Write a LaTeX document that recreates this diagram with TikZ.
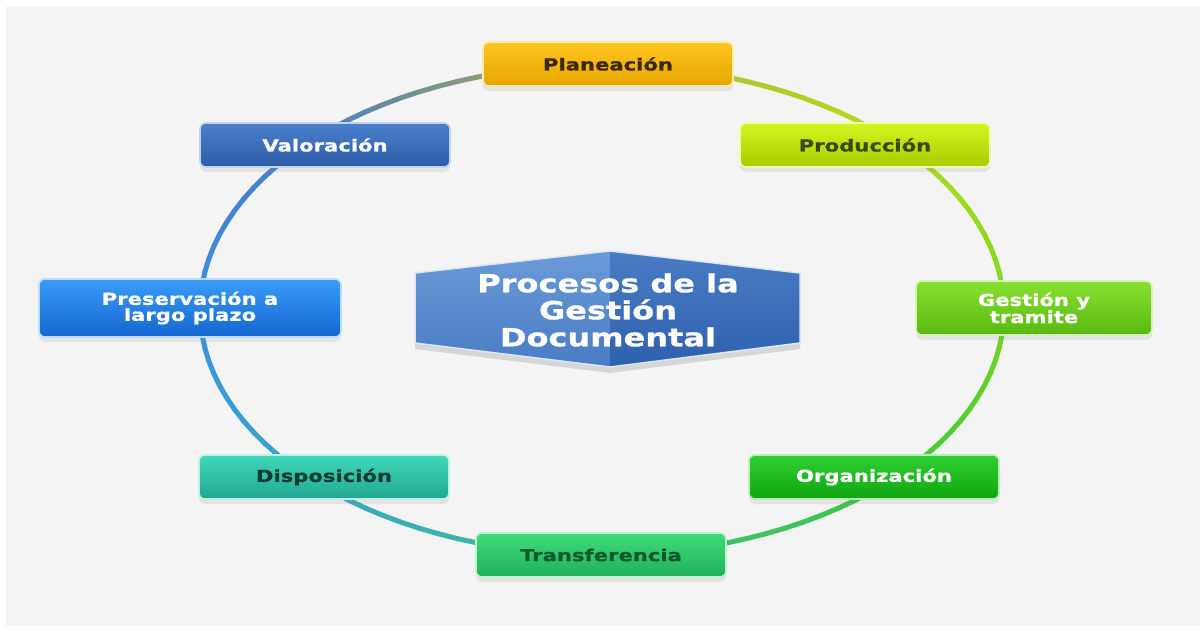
\documentclass[tikz,border=0pt]{standalone}
\usepackage{fontspec}
\setmainfont{DejaVu Sans}
\newfontfamily\widefont[FakeStretch=1.28, BoldFeatures={FakeBold=0.9}]{DejaVu Sans}
\usetikzlibrary{shadows}

\definecolor{bgray}{HTML}{F4F4F4}
% ring colours
\definecolor{rPlan}{HTML}{B4B43C}
\definecolor{rProd}{HTML}{B4DC1E}
\definecolor{rGest}{HTML}{7CD820}
\definecolor{rOrg}{HTML}{3CC83C}
\definecolor{rTrans}{HTML}{40BC8C}
\definecolor{rDisp}{HTML}{3AA8C8}
\definecolor{rPres}{HTML}{3A90E0}
\definecolor{rVal}{HTML}{4A7CC8}
% box colours
\definecolor{planT}{HTML}{FFC820}\definecolor{planB}{HTML}{E6A400}\definecolor{planX}{HTML}{3A2800}
\definecolor{prodT}{HTML}{D4F520}\definecolor{prodB}{HTML}{A8CC00}\definecolor{prodX}{HTML}{3A4800}
\definecolor{gestT}{HTML}{88E030}\definecolor{gestB}{HTML}{58B810}
\definecolor{orgT}{HTML}{30D030}\definecolor{orgB}{HTML}{10A510}
\definecolor{tranT}{HTML}{40DC7C}\definecolor{tranB}{HTML}{20B058}\definecolor{tranX}{HTML}{0E5A2C}
\definecolor{dispT}{HTML}{40D8B8}\definecolor{dispB}{HTML}{20A890}\definecolor{dispX}{HTML}{0E3C34}
\definecolor{presT}{HTML}{3A9CF8}\definecolor{presB}{HTML}{1466D0}
\definecolor{valT}{HTML}{4C80CC}\definecolor{valB}{HTML}{2C5CA8}
\definecolor{hexLT}{HTML}{6A9AD8}\definecolor{hexLB}{HTML}{4A7CC4}
\definecolor{hexRT}{HTML}{4A7CC4}\definecolor{hexRB}{HTML}{2F60AE}

\begin{document}
\begin{tikzpicture}[x=1pt,y=-1pt,
  stage/.style n args={3}{rounded corners=6pt, top color=#1, bottom color=#2,
    draw=#1!35!white, line width=1.6pt, text=#3, align=center, inner sep=2pt,
    minimum width=250pt, minimum height=44pt,
    font=\widefont\bfseries\fontsize{16.5}{16}\selectfont,
    drop shadow={opacity=0.14, shadow xshift=0pt, shadow yshift=-5pt}},
  ring/.style={line width=5pt, line cap=round}]
  \useasboundingbox (0,0) rectangle (1200,626);
  \fill[white] (0,0) rectangle (1200,626);
  \fill[bgray] (6,6) rectangle (1200,626);

  % the ring, blended from one stage colour to the next
  \foreach \a/\ca/\cb in {90/rPlan/rProd, 45/rProd/rGest, 0/rGest/rOrg,
      -45/rOrg/rTrans, -90/rTrans/rDisp, -135/rDisp/rPres,
      -180/rPres/rVal, -225/rVal/rPlan}{
    \foreach \i in {0,...,14}{
      \pgfmathtruncatemacro\mix{(\i+0.5)*100/15}
      \draw[ring, color=\cb!\mix!\ca]
        ({602+402*cos(\a-3*\i)},{310-245*sin(\a-3*\i)}) --
        ({602+402*cos(\a-3*\i-3)},{310-245*sin(\a-3*\i-3)});
    }
  }

  % centre
  \fill[black, opacity=0.12] (415,279) -- (610,257) -- (800,279) -- (800,349) -- (610,373) -- (415,349) -- cycle;
  \shade[top color=hexLT, bottom color=hexLB] (415,273) -- (610,251) -- (610,367) -- (415,343) -- cycle;
  \shade[top color=hexRT, bottom color=hexRB] (610,251) -- (800,273) -- (800,343) -- (610,367) -- cycle;
  \draw[white!75!hexLT, line width=1.5pt, line join=round]
    (415,273) -- (610,251) -- (800,273) -- (800,343) -- (610,367) -- (415,343) -- cycle;
  \node[text=white, align=center, font=\widefont\bfseries\fontsize{25}{27}\selectfont]
    (title) at (608,310) {Procesos de la\\Gestión\\Documental};

  % stages
  \node[stage={planT}{planB}{planX}] (plan) at (608,64) {Planeación};
  \node[stage={prodT}{prodB}{prodX}] (prod) at (865,145) {Producción};
  \node[stage={gestT}{gestB}{white}, minimum width=236pt, minimum height=54pt] (gest) at (1034,308) {Gestión y\\tramite};
  \node[stage={orgT}{orgB}{white}] (org) at (874,477) {Organización};
  \node[stage={tranT}{tranB}{tranX}] (trans) at (601,555) {Transferencia};
  \node[stage={dispT}{dispB}{dispX}] (disp) at (324,477) {Disposición};
  \node[stage={presT}{presB}{white}, minimum width=302pt, minimum height=58pt] (pres) at (190,308) {Preservación a\\largo plazo};
  \node[stage={valT}{valB}{white}] (val) at (325,145) {Valoración};
\end{tikzpicture}
\end{document}
